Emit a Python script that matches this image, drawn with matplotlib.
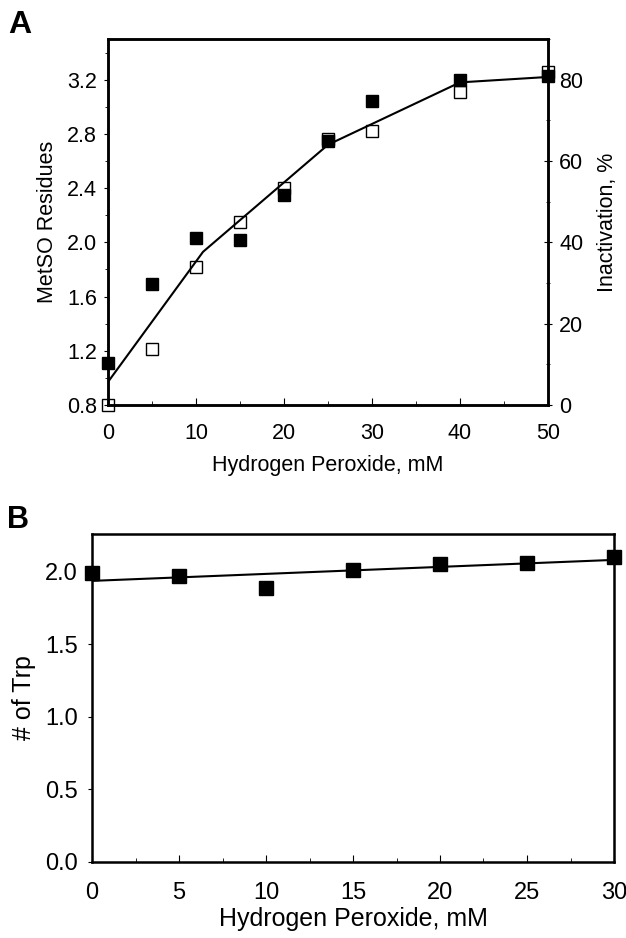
import matplotlib
matplotlib.use('Agg')
import matplotlib.pyplot as plt
import numpy as np
from matplotlib.ticker import MultipleLocator

plt.rcParams['font.family'] = ['Liberation Sans', 'DejaVu Sans']

# Panel A data
h2o2_a = [0, 5, 10, 15, 20, 25, 30, 40, 50]
metso = [1.11, 1.69, 2.03, 2.02, 2.35, 2.75, 3.04, 3.20, 3.23]
inact = [0, 13.7, 34, 45, 53.4, 65.5, 67.3, 77, 82]
# drawn curve in panel A
curve_x = [0, 10.8, 25, 40, 50]
curve_y = [0.97, 1.93, 2.72, 3.18, 3.22]

# Panel B data
h2o2_b = [0, 5, 10, 15, 20, 25, 30]
trp = [1.99, 1.97, 1.885, 2.01, 2.05, 2.06, 2.10]

fig = plt.figure(figsize=(6.26, 9.38), dpi=100)

# ---- A ----
ax = fig.add_axes([108/626, 1-405/938, 440/626, 366/938])
ax2 = ax.twinx()
ax.plot(curve_x, curve_y, color='black', lw=1.5, zorder=3)
ax2.plot(h2o2_a, inact, 's', ms=9, mfc='white', mec='black', mew=1.0, clip_on=False, zorder=2)
ax.plot(h2o2_a, metso, 's', ms=9, color='black', clip_on=False, zorder=4)
ax.set_zorder(ax2.get_zorder() + 1)
ax.patch.set_visible(False)

ax.set_xlim(0, 50)
ax.set_ylim(0.8, 3.5)
ax2.set_ylim(0, 90)
ax.set_xticks([0, 10, 20, 30, 40, 50])
ax.xaxis.set_minor_locator(MultipleLocator(5))
ax.set_yticks([0.8, 1.2, 1.6, 2.0, 2.4, 2.8, 3.2])
ax.yaxis.set_minor_locator(MultipleLocator(0.2))
ax2.set_yticks([0, 20, 40, 60, 80])
ax2.yaxis.set_minor_locator(MultipleLocator(10))
ax.tick_params(axis='x', which='both', direction='in', labelsize=15.5, pad=13)
ax.tick_params(axis='x', which='major', length=5)
ax.tick_params(axis='x', which='minor', length=3)
ax.tick_params(axis='y', which='major', direction='out', length=3, pad=5, labelsize=15.5)
ax.tick_params(axis='y', which='minor', direction='out', length=2)
ax2.tick_params(axis='y', which='major', direction='inout', length=6, pad=5, labelsize=15.5)
ax2.tick_params(axis='y', which='minor', direction='inout', length=3)
ax.set_xlabel('Hydrogen Peroxide, mM', fontsize=15.5, labelpad=8)
ax.set_ylabel('MetSO Residues', fontsize=15.5, labelpad=6)
ax2.set_ylabel('Inactivation, %', fontsize=15.5, labelpad=10)
for a in (ax, ax2):
    for s in a.spines.values():
        s.set_linewidth(1.8)
fig.text(20/626, 1-25/938, 'A', fontsize=23, fontweight='bold', va='center', ha='center')

# ---- B ----
bx = fig.add_axes([92/626, 1-862/938, 522/626, 328/938])
slope, intercept = np.polyfit(h2o2_b, trp, 1)
fit_x = np.array([0, 30])
bx.plot(fit_x, intercept + slope * fit_x, color='black', lw=1.5)
bx.plot(h2o2_b, trp, 's', ms=10, color='black', clip_on=False, zorder=4)
bx.set_xlim(0, 30)
bx.set_ylim(0, 2.26)
bx.set_xticks([0, 5, 10, 15, 20, 25, 30])
bx.xaxis.set_minor_locator(MultipleLocator(2.5))
bx.set_yticks([0.0, 0.5, 1.0, 1.5, 2.0])
bx.set_yticklabels(['0.0', '0.5', '1.0', '1.5', '2.0'])
bx.tick_params(axis='x', which='both', direction='in', labelsize=17, pad=14.5)
bx.tick_params(axis='x', which='major', length=5)
bx.tick_params(axis='x', which='minor', length=3)
bx.tick_params(axis='y', which='major', direction='out', length=3, pad=7, labelsize=17)
bx.set_xlabel('Hydrogen Peroxide, mM', fontsize=18, labelpad=2)
bx.set_ylabel('# of Trp', fontsize=18, labelpad=6.5)
for s in bx.spines.values():
    s.set_linewidth(1.8)
fig.text(18/626, 1-520/938, 'B', fontsize=22, fontweight='bold', va='center', ha='center')

fig.savefig('out.png', dpi=100)
